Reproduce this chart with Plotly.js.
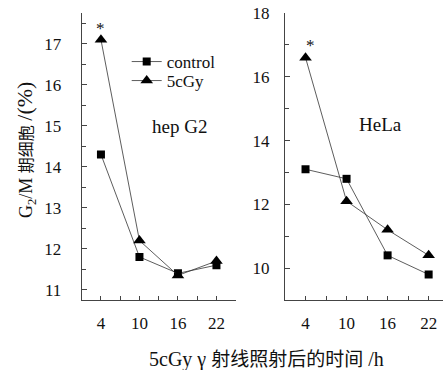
<!DOCTYPE html>
<html><head><meta charset="utf-8">
<script src="https://cdn.plot.ly/plotly-3.0.1.min.js"></script>
<style>html,body{margin:0;padding:0;background:#fff;}</style>
</head><body>
<div id="chart" style="width:444px;height:370px;"></div>
<script>
const hours = [4, 10, 16, 22];
const hepControl = [14.3, 11.8, 11.4, 11.6];
const hep5cGy = [17.1, 12.2, 11.35, 11.7];
const helaControl = [13.1, 12.8, 10.4, 9.8];
const hela5cGy = [16.6, 12.1, 11.2, 10.4];
const seriesNames = ['control', '5cGy'];
const leftTicks = [11, 12, 13, 14, 15, 16, 17];
const rightTicks = [10, 12, 14, 16, 18];

const serif = 'Liberation Serif';
const cjk = 'Liberation Serif, Noto Sans CJK SC';
const lineStyle = {color: '#333', width: 0.8};

const traces = [
  {x: hours, y: hepControl, name: seriesNames[0], xaxis: 'x', yaxis: 'y', mode: 'lines+markers',
   line: lineStyle, marker: {symbol: 'square', size: 8, color: '#000'}, legend: 'legend'},
  {x: hours, y: hep5cGy, name: seriesNames[1], xaxis: 'x', yaxis: 'y', mode: 'lines+markers',
   line: lineStyle, marker: {symbol: 'triangle-up', size: 11, color: '#000'}, legend: 'legend2'},
  {x: hours, y: helaControl, name: seriesNames[0], xaxis: 'x2', yaxis: 'y2', mode: 'lines+markers',
   line: lineStyle, marker: {symbol: 'square', size: 8, color: '#000'}, showlegend: false},
  {x: hours, y: hela5cGy, name: seriesNames[1], xaxis: 'x2', yaxis: 'y2', mode: 'lines+markers',
   line: lineStyle, marker: {symbol: 'triangle-up', size: 11, color: '#000'}, showlegend: false}
];

function axis(extra) {
  return Object.assign({
    showgrid: false, zeroline: false, showline: true, linecolor: '#444', linewidth: 1,
    ticks: 'inside', ticklen: 5, tickcolor: '#444', tickwidth: 1,
    tickfont: {family: serif, size: 17, color: '#111'}, fixedrange: true
  }, extra);
}
function ann(text, x, y, xref, yref, extra) {
  return Object.assign({text: text, x: x, y: y, xref: xref, yref: yref, showarrow: false,
    xanchor: 'center', yanchor: 'middle', font: {family: serif, size: 17, color: '#111'}}, extra || {});
}
function legendAt(top) {
  return {x: 126.7/444, y: (370-top)/370, xanchor: 'left', yanchor: 'top',
    font: {family: serif, size: 17, color: '#111'}, bgcolor: 'rgba(0,0,0,0)',
    borderwidth: 0, itemwidth: 30};
}

const layout = {
  width: 444, height: 370,
  margin: {l: 0, r: 0, t: 0, b: 0},
  font: {family: serif, size: 17, color: '#111'},
  paper_bgcolor: '#fff', plot_bgcolor: '#fff',
  showlegend: true,
  legend: legendAt(44),
  legend2: legendAt(63),
  xaxis: axis({domain: [81.7/444, 235.7/444], range: [1, 25], anchor: 'y',
    tickmode: 'array', tickvals: hours, ticklen: 4, ticklabelstandoff: 8,
    minor: {tickmode: 'array', tickvals: [7, 13, 19], ticks: 'inside', ticklen: 4, tickcolor: '#444'}}),
  yaxis: axis({domain: [70/370, 357/370], range: [10.75, 17.75], anchor: 'x',
    tickmode: 'array', tickvals: leftTicks, ticklabelstandoff: 16,
    minor: {dtick: 0.5, ticks: 'inside', ticklen: 4, tickcolor: '#444'}}),
  xaxis2: axis({domain: [285/444, 443/444], range: [1, 24.1], anchor: 'y2',
    tickmode: 'array', tickvals: hours, ticklen: 4, ticklabelstandoff: 8,
    minor: {tickmode: 'array', tickvals: [7, 13, 19], ticks: 'inside', ticklen: 4, tickcolor: '#444'}}),
  yaxis2: axis({domain: [70/370, 357/370], range: [9, 18], anchor: 'x2',
    tickmode: 'array', tickvals: rightTicks, ticklabelstandoff: 11,
    minor: {dtick: 1, ticks: 'inside', ticklen: 4, tickcolor: '#444'}}),
  annotations: [
    ann('*', 4, 17.36, 'x', 'y'),
    ann('*', 4.66, 16.98, 'x2', 'y2'),
    ann('hep G2', 179.5/444, (370-126.5)/370, 'paper', 'paper', {font: {family: serif, size: 19, color: '#111'}}),
    ann('HeLa', 380.5/444, (370-124)/370, 'paper', 'paper', {font: {family: serif, size: 19, color: '#111'}}),
    ann('G<sub>2</sub>/M <span style="font-size:16px">期细胞</span> <span style="font-size:22px">/(%)</span>',
      25/444, (370-150)/370, 'paper', 'paper',
      {textangle: -90, font: {family: cjk, size: 18, color: '#111'}}),
    ann('5cGy γ <span style="font-size:19px">射线照射后的时间</span> /h', 266/444, (370-359)/370, 'paper', 'paper',
      {font: {family: cjk, size: 20, color: '#111'}})
  ]
};

Plotly.newPlot('chart', traces, layout, {displayModeBar: false, staticPlot: true});
</script>
</body></html>
